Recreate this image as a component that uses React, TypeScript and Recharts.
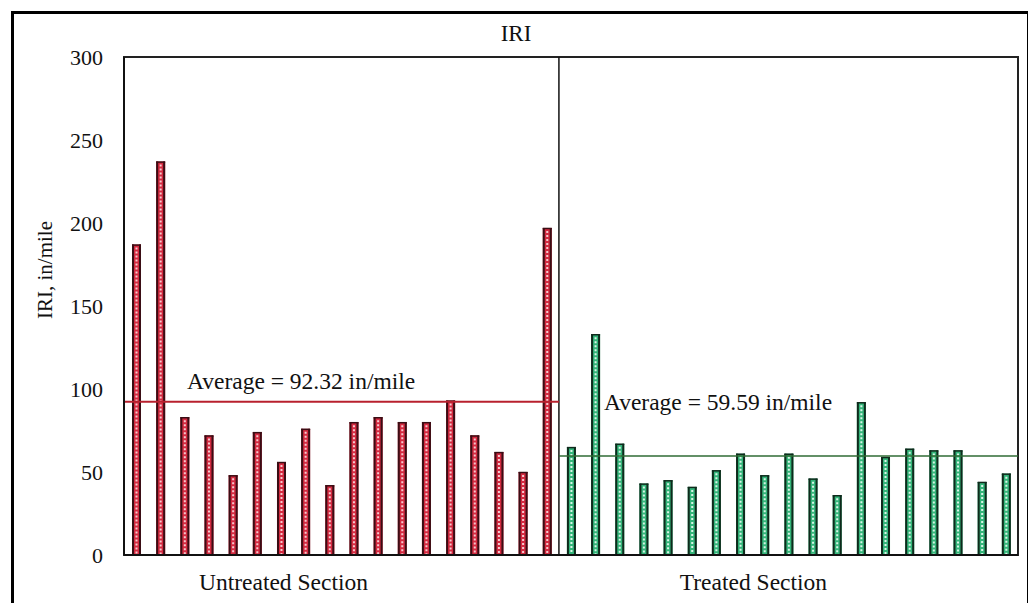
import React from "react";
import {
  BarChart,
  Bar,
  XAxis,
  YAxis,
  ReferenceLine,
  ReferenceArea,
} from "recharts";

// IRI readings, in/mile, one per test location
const untreatedIRI = [
  187, 237, 83, 72, 48, 74, 56, 76, 42, 80, 83, 80, 80, 93, 72, 62, 50, 197,
];
const treatedIRI = [
  65, 133, 67, 43, 45, 41, 51, 61, 48, 61, 46, 36, 92, 59, 64, 63, 63, 44, 49,
];
const untreatedAvg = 92.32;
const treatedAvg = 59.59;
const yTicks = [0, 50, 100, 150, 200, 250, 300];
const sectionLabels = ["Untreated Section", "Treated Section"];

const data = [
  ...untreatedIRI.map((v, i) => ({ name: `U${i + 1}`, iri: v, treated: false })),
  ...treatedIRI.map((v, i) => ({ name: `T${i + 1}`, iri: v, treated: true })),
].map((d, i) => ({ ...d, pos: i + 0.5 }));
const nCats = data.length;
const split = untreatedIRI.length;

const FONT = '"Liberation Serif", "Times New Roman", serif';

const RED = { fill: "#d42a40", edge: "#3a0d14", dot: "#f6c9cf" };
const GREEN = { fill: "#34b57a", edge: "#0f2a1c", dot: "#d9f5e6" };

function DottedBar(props: any) {
  const { x, y, width, height, payload } = props;
  if (!height || height <= 0) return null;
  const c = payload.treated ? GREEN : RED;
  const cx = x + width / 2;
  return (
    <g>
      <rect x={x} y={y} width={width} height={height} fill={c.fill} />
      <line x1={x + 1} y1={y} x2={x + 1} y2={y + height} stroke={c.edge} strokeWidth={2} />
      <line x1={x + width - 1} y1={y} x2={x + width - 1} y2={y + height} stroke={c.edge} strokeWidth={2} />
      <line x1={x} y1={y + 0.5} x2={x + width} y2={y + 0.5} stroke={c.edge} strokeWidth={1.5} />
      <line
        x1={cx}
        y1={y + 3}
        x2={cx}
        y2={y + height}
        stroke={c.dot}
        strokeWidth={2}
        strokeDasharray="2 2"
      />
    </g>
  );
}

function YLabel(props: any) {
  const vb = props.viewBox || { x: 0, y: 0, height: 0 };
  const x = vb.x + 31;
  const y = vb.y + vb.height / 2 - 36;
  return (
    <text
      x={x}
      y={y}
      transform={`rotate(-90, ${x}, ${y})`}
      textAnchor="middle"
      dominantBaseline="central"
      fontFamily={FONT}
      fontSize={21}
      fill="#111"
    >
      IRI, in/mile
    </text>
  );
}

function avgLabel(text: string, dx: number, dy: number) {
  return (props: any) => {
    const vb = props.viewBox || { x: 0, y: 0 };
    return (
      <text
        x={vb.x + dx}
        y={vb.y + dy}
        fontFamily={FONT}
        fontSize={23.5}
        fill="#111"
        dominantBaseline="central"
      >
        {text}
      </text>
    );
  };
}

export default function App() {
  return (
    <div
      style={{
        position: "relative",
        marginLeft: 3,
        marginTop: 3,
        width: 1013,
        height: 600,
        border: "3px solid #000",
        background: "#fff",
      }}
    >
      <div
        style={{
          position: "absolute",
          left: 482,
          top: 7,
          width: 40,
          textAlign: "center",
          fontFamily: FONT,
          fontSize: 23,
          color: "#111",
        }}
      >
        IRI
      </div>
      <BarChart
        width={1010}
        height={600}
        data={data}
        margin={{ top: 43, right: 6, bottom: 9, left: 0 }}
        barSize={9}
      >
        <XAxis xAxisId="cat" dataKey="name" orientation="top" height={0} hide />
        <XAxis
          xAxisId="num"
          dataKey="pos"
          type="number"
          domain={[0, nCats]}
          allowDataOverflow
          ticks={[6.6, 26.05]}
          tickFormatter={(v: number) => (v < split ? sectionLabels[0] : sectionLabels[1])}
          tickLine={false}
          tickMargin={12}
          height={50}
          axisLine={{ stroke: "#111", strokeWidth: 2 }}
          tick={{ fontFamily: FONT, fontSize: 23.5, fill: "#111" }}
        />
        <YAxis
          yAxisId="left"
          domain={[0, 300]}
          ticks={yTicks}
          width={110}
          tickLine={false}
          tickMargin={15}
          axisLine={{ stroke: "#111", strokeWidth: 2 }}
          tick={{ fontFamily: FONT, fontSize: 22, fill: "#111" }}
          label={<YLabel />}
        />
        <ReferenceArea
          xAxisId="num"
          yAxisId="left"
          x1={0}
          x2={nCats}
          y1={0}
          y2={300}
          fill="none"
          fillOpacity={0}
          stroke="#222"
          strokeWidth={2}
        />
        <Bar
          xAxisId="cat"
          yAxisId="left"
          dataKey="iri"
          isAnimationActive={false}
          shape={<DottedBar />}
        />
        <ReferenceLine
          xAxisId="num"
          yAxisId="left"
          x={split}
          stroke="#111"
          strokeWidth={1.5}
        />
        <ReferenceLine
          xAxisId="num"
          yAxisId="left"
          segment={[
            { x: 0, y: untreatedAvg },
            { x: split, y: untreatedAvg },
          ]}
          stroke="#b8202e"
          strokeWidth={2}
          label={{ content: avgLabel(`Average = ${untreatedAvg} in/mile`, 63, -21) }}
        />
        <ReferenceLine
          xAxisId="num"
          yAxisId="left"
          segment={[
            { x: split, y: treatedAvg },
            { x: nCats, y: treatedAvg },
          ]}
          stroke="#2f6b34"
          strokeWidth={1.5}
          label={{ content: avgLabel(`Average = ${treatedAvg} in/mile`, 45, -54) }}
        />
      </BarChart>
    </div>
  );
}
